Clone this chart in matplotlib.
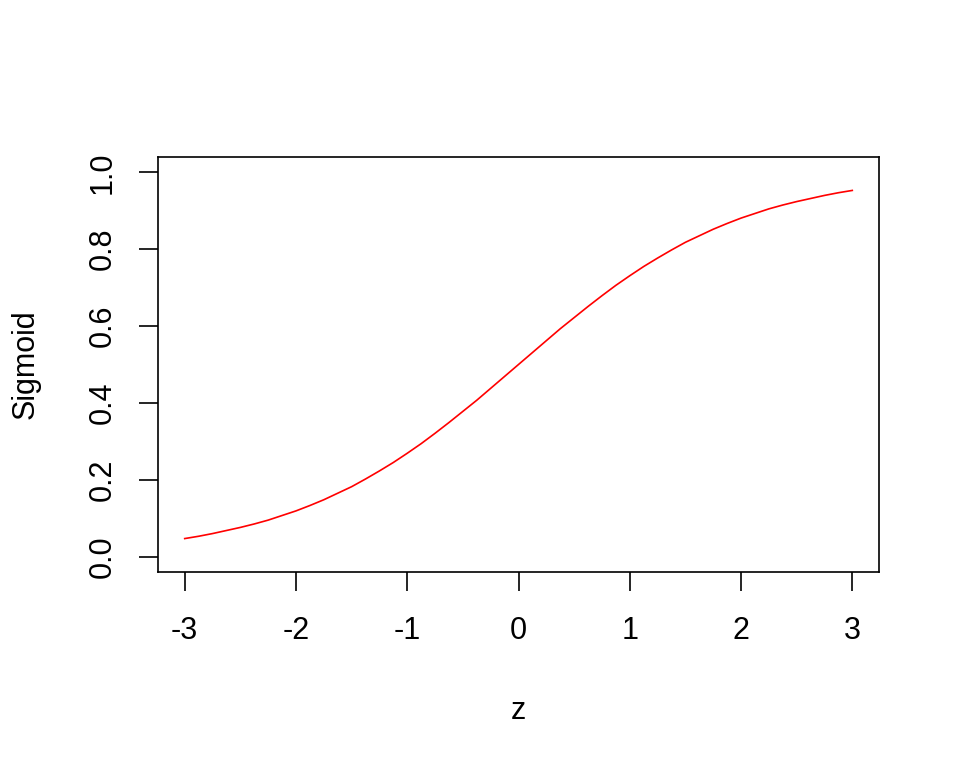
import matplotlib
matplotlib.use("Agg")
import matplotlib.pyplot as plt

# values
z = [-3.0, -2.875, -2.75, -2.625, -2.5, -2.375, -2.25, -2.125, -2.0, -1.875, -1.75, -1.625,
     -1.5, -1.375, -1.25, -1.125, -1.0, -0.875, -0.75, -0.625, -0.5, -0.375, -0.25, -0.125,
     0.0, 0.125, 0.25, 0.375, 0.5, 0.625, 0.75, 0.875, 1.0, 1.125, 1.25, 1.375,
     1.5, 1.625, 1.75, 1.875, 2.0, 2.125, 2.25, 2.375, 2.5, 2.625, 2.75, 2.875, 3.0]
sigmoid = [0.047, 0.053, 0.060, 0.068, 0.076, 0.085, 0.095, 0.107, 0.119, 0.133, 0.148, 0.165,
           0.182, 0.202, 0.223, 0.245, 0.269, 0.294, 0.321, 0.349, 0.378, 0.407, 0.438, 0.469,
           0.500, 0.531, 0.562, 0.593, 0.622, 0.651, 0.679, 0.706, 0.731, 0.755, 0.777, 0.798,
           0.818, 0.835, 0.852, 0.867, 0.881, 0.893, 0.905, 0.915, 0.924, 0.932, 0.940, 0.947, 0.953]
x_ticks = [-3, -2, -1, 0, 1, 2, 3]
y_ticks = [0.0, 0.2, 0.4, 0.6, 0.8, 1.0]

plt.rcParams['font.family'] = ['Liberation Sans', 'DejaVu Sans']

fig = plt.figure(figsize=(9.6, 7.68), dpi=100)
ax = fig.add_axes([158 / 960, 1 - 572 / 768, (879 - 158) / 960, (572 - 157) / 768])

ax.plot(z, sigmoid, color='red', linewidth=1.2)

ax.set_xlim(-3.24, 3.24)
ax.set_ylim(-0.04, 1.04)
ax.set_xticks(x_ticks)
ax.set_xticklabels([str(v) for v in x_ticks])
ax.set_yticks(y_ticks)
ax.set_yticklabels([f"{v:.1f}" for v in y_ticks], rotation=90, va='center')

for s in ax.spines.values():
    s.set_linewidth(1.2)
ax.tick_params(direction='out', length=14, width=1.2, labelsize=22)
ax.tick_params(axis='x', pad=18)
ax.tick_params(axis='y', pad=15)

ax.set_xlabel('z', fontsize=22, labelpad=36)
ax.set_ylabel('Sigmoid', fontsize=22, labelpad=34)

fig.savefig('out.png', dpi=100)
